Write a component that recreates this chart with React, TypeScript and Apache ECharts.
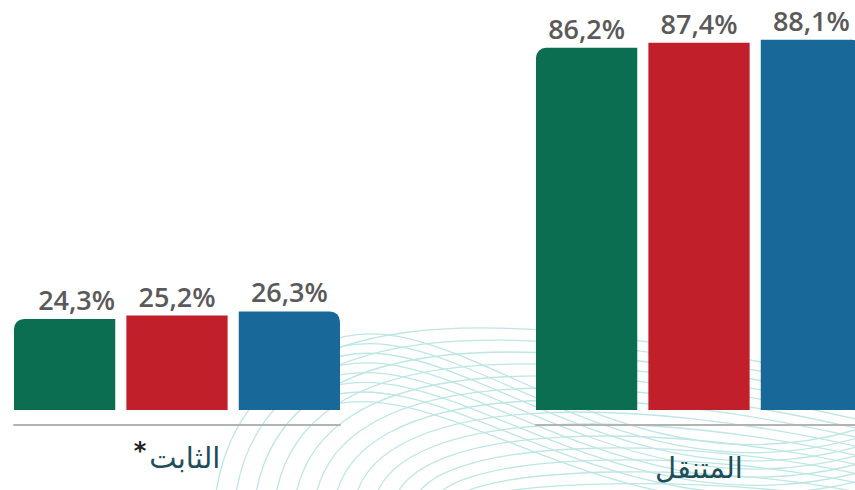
import React, { useEffect, useRef } from "react";
import * as echarts from "echarts";

const categories = ["الثابت", "المتنقل"];
const seriesNames = ["A", "B", "C"];
const fixedValues = [24.3, 25.2, 26.3];
const mobileValues = [86.2, 87.4, 88.1];
const colors = ["#0b6e50", "#c1202a", "#186899"];

function fmt(v: number) {
  return String(v).replace(".", ",") + "%";
}

function waves() {
  const els: any[] = [];
  const stroke = "#bde6e4";
  for (let i = 0; i < 14; i++) {
    const sx = 215 + i * 20;
    const py = 300 + i * 14;
    els.push({
      type: "bezierCurve",
      silent: true,
      shape: {
        x1: sx, y1: 500,
        cpx1: sx + 25 - i * 0.5, cpy1: py,
        cpx2: sx + 260, cpy2: py - 10,
        x2: 885, y2: 390 + i * 9,
      },
      style: { stroke, lineWidth: 1.3, fill: null },
    });
  }
  for (let i = 0; i < 8; i++) {
    els.push({
      type: "bezierCurve",
      silent: true,
      shape: {
        x1: 320, y1: 345 + i * 9,
        cpx1: 450, cpy1: 280 + i * 12,
        cpx2: 620, cpy2: 520 + i * 6,
        x2: 885, y2: 420 + i * 9,
      },
      style: { stroke, lineWidth: 1.3, fill: null },
    });
  }
  return els;
}

export default function App() {
  const ref = useRef<HTMLDivElement>(null);
  useEffect(() => {
    document.body.style.margin = "0";
    const chart = echarts.init(ref.current!, null, { renderer: "svg" });
    const radii = [
      [10, 0, 0, 0],
      [0, 0, 0, 0],
      [0, 10, 0, 0],
    ];
    const mk = (vals: number[], gi: number) =>
      vals.map((v, i) => ({
        name: seriesNames[i],
        type: "bar",
        xAxisIndex: gi,
        yAxisIndex: gi,
        barGap: "11%",
        barCategoryGap: 0,
        z: 5,
        data: [
          {
            value: v,
            label: gi === 0 && i === 0 ? { offset: [12, 0] } : undefined,
          },
        ],
        itemStyle: { color: colors[i], borderRadius: radii[i] },
        label: {
          show: true,
          position: "top",
          distance: 6,
          formatter: (p: any) => fmt(p.value),
          fontFamily: "Open Sans",
          fontSize: 27,
          fontWeight: 600,
          color: "#5a5a5a",
        },
      }));
    const xAx = (gi: number) => ({
      type: "category",
      gridIndex: gi,
      data: [categories[gi]],
      axisLine: { onZero: false, lineStyle: { color: "#b3b3b3", width: 2 } },
      axisTick: { show: false },
      axisLabel: {
        margin: gi === 0 ? 14 : 28,
        formatter: (v: string) => (gi === 0 ? "{s|*}{a|" + v + "}" : "{a|" + v + "}"),
        rich: {
          a: { fontSize: 29, color: "#1d4f5b", fontFamily: "DejaVu Sans" },
          s: { fontSize: 24, color: "#222", padding: [0, 3, 14, 0], fontFamily: "DejaVu Sans", fontWeight: "bold" },
        },
      },
    });
    chart.setOption({
      animation: false,
      graphic: { elements: waves() },
      grid: [
        { left: 14, width: 326, top: 20, bottom: 65 },
        { left: 536, width: 326, top: 20, bottom: 65 },
      ],
      xAxis: [xAx(0), xAx(1)],
      yAxis: [
        { type: "value", gridIndex: 0, min: -4, max: 104, show: false, splitLine: { show: false } },
        { type: "value", gridIndex: 1, min: -3.6, max: 92.8, show: false, splitLine: { show: false } },
      ],
      series: [...mk(fixedValues, 0), ...mk(mobileValues, 1)],
    });
    return () => chart.dispose();
  }, []);
  return (
    <div style={{ width: 855, height: 490, overflow: "hidden" }}>
      <div ref={ref} style={{ width: 875, height: 490 }} />
    </div>
  );
}
